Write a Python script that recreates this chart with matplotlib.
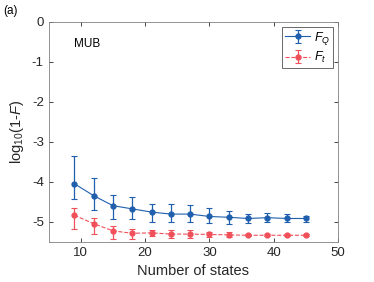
import numpy as np
import matplotlib.pyplot as plt

plt.rcParams['font.family'] = ['Liberation Sans', 'DejaVu Sans']
plt.rcParams['mathtext.fontset'] = 'custom'
plt.rcParams['mathtext.it'] = 'Liberation Sans:italic'
plt.rcParams['mathtext.rm'] = 'Liberation Sans'
plt.rcParams['axes.unicode_minus'] = False

# number of states
n_states = [9, 12, 15, 18, 21, 24, 27, 30, 33, 36, 39, 42, 45]

# F_Q : log10(1-F) with lower / upper ends of error bars
fq = [-4.05, -4.35, -4.60, -4.68, -4.76, -4.81, -4.81, -4.87, -4.89, -4.92, -4.90, -4.92, -4.92]
fq_top = [-3.36, -3.90, -4.33, -4.39, -4.57, -4.57, -4.58, -4.67, -4.73, -4.81, -4.79, -4.82, -4.85]
fq_bot = [-4.44, -4.72, -4.94, -4.94, -5.00, -5.02, -5.02, -5.04, -5.05, -5.04, -5.01, -5.02, -5.00]

# F_t
ft = [-4.84, -5.05, -5.23, -5.29, -5.28, -5.31, -5.31, -5.32, -5.33, -5.34, -5.34, -5.34, -5.34]
ft_top = [-4.65, -4.90, -5.11, -5.19, -5.21, -5.22, -5.22, -5.25, -5.27, -5.31, -5.31, -5.31, -5.31]
ft_bot = [-5.18, -5.30, -5.43, -5.44, -5.37, -5.40, -5.40, -5.39, -5.39, -5.37, -5.37, -5.37, -5.37]

fq = np.array(fq)
ft = np.array(ft)
err_q = [fq - np.array(fq_bot), np.array(fq_top) - fq]
err_t = [ft - np.array(ft_bot), np.array(ft_top) - ft]

blue = '#1f5fae'
red = '#f0505a'
gray = '#262626'

fig = plt.figure(figsize=(3.74, 2.82), dpi=100)
ax = fig.add_axes([0.13, 0.143, 0.774, 0.78])

ax.errorbar(n_states, fq, yerr=err_q, color=blue, marker='o', markersize=3.5,
            linewidth=0.8, elinewidth=0.9, capsize=2, capthick=0.8,
            label='$F_Q$')
ax.errorbar(n_states, ft, yerr=err_t, color=red, marker='o', markersize=3.5,
            linewidth=0.8, linestyle='--', elinewidth=0.9, capsize=2,
            capthick=0.8, label='$F_t$')

ax.set_xlim(5, 50)
ax.set_ylim(-5.5, 0)
ax.set_xticks([10, 20, 30, 40, 50])
ax.set_yticks([0, -1, -2, -3, -4, -5])
ax.tick_params(direction='in', top=True, right=True, labelsize=9.5,
               colors=gray, length=3, width=0.6)
for s in ax.spines.values():
    s.set_color('#808080')
    s.set_linewidth(0.6)

ax.set_xlabel('Number of states', fontsize=10.5, color=gray)
ax.set_ylabel('log$_{10}$(1-$F$)', fontsize=10.5, color=gray)

ax.text(9, -0.55, 'MUB', fontsize=8.5, color='black', va='center')
fig.text(0.008, 0.962, '(a)', fontsize=8.5, color='black', va='center')

leg = ax.legend(loc='upper right', fontsize=9, frameon=True, fancybox=False,
                borderaxespad=0.4, handlelength=2.0, borderpad=0.25,
                labelspacing=0.25, handletextpad=0.3)
leg.get_frame().set_edgecolor(gray)
leg.get_frame().set_linewidth(0.6)

fig.savefig('out.png', dpi=100)
